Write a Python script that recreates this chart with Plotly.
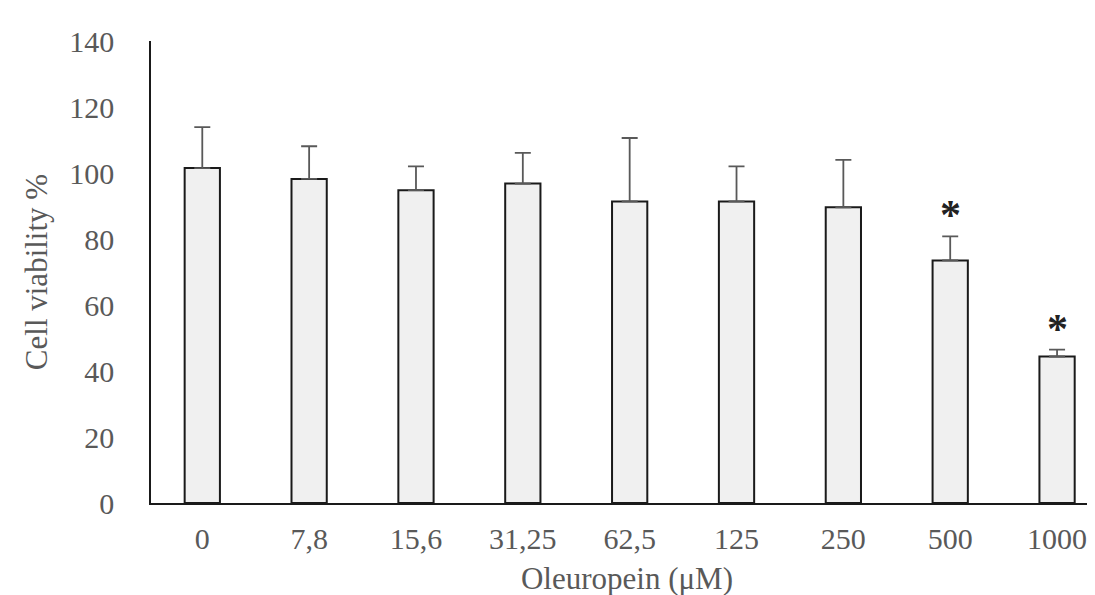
import plotly.graph_objects as go

categories = ["0", "7,8", "15,6", "31,25", "62,5", "125", "250", "500", "1000"]
viability = [101.5, 98.2, 94.8, 96.8, 91.4, 91.4, 89.6, 73.5, 44.4]
sd = [12.4, 9.9, 7.2, 9.3, 19.2, 10.6, 14.4, 7.3, 2.1]
significant = ["", "", "", "", "", "", "", "*", "*"]
y_ticks = [0, 20, 40, 60, 80, 100, 120, 140]

x_idx = list(range(len(categories)))

fig = go.Figure()
fig.add_trace(go.Bar(
    x=x_idx, y=viability, width=0.33,
    marker=dict(color="#f0f0f0", line=dict(color="#1a1a1a", width=2)),
    error_y=dict(type="data", array=sd, arrayminus=[0] * len(sd), symmetric=False,
                 color="#595959", thickness=1.8, width=8),
    showlegend=False,
))

for i, (v, e, s) in enumerate(zip(viability, sd, significant)):
    if s:
        fig.add_annotation(x=i, y=v + e, text="<b>" + s + "</b>", showarrow=False, yanchor="bottom",
                           yshift=-4, font=dict(family="Liberation Serif", size=42, color="#222222"))

fig.update_layout(
    width=1095, height=595,
    margin=dict(l=143, r=0, t=33, b=100),
    paper_bgcolor="white", plot_bgcolor="white",
    font=dict(family="Liberation Serif", color="#595959"),
    bargap=0.67,
)
fig.update_xaxes(
    range=[-0.48, 8.43], tickmode="array", tickvals=x_idx, ticktext=categories,
    showline=True, linecolor="#1a1a1a", linewidth=1.5, ticks="", showgrid=False,
    tickfont=dict(size=30, color="#595959"), ticklabelstandoff=8,
    title=dict(text="Oleuropein (μM)", font=dict(size=31, color="#595959"), standoff=14),
)
fig.update_yaxes(
    range=[0, 140], tickmode="array", tickvals=y_ticks,
    showline=True, linecolor="#1a1a1a", linewidth=1.5, ticks="", showgrid=False,
    zeroline=False,
    tickfont=dict(size=30, color="#595959"), ticklabelstandoff=29,
    title=dict(text="Cell viability %", font=dict(size=31, color="#595959"), standoff=12),
)

fig.write_html("out.html")
